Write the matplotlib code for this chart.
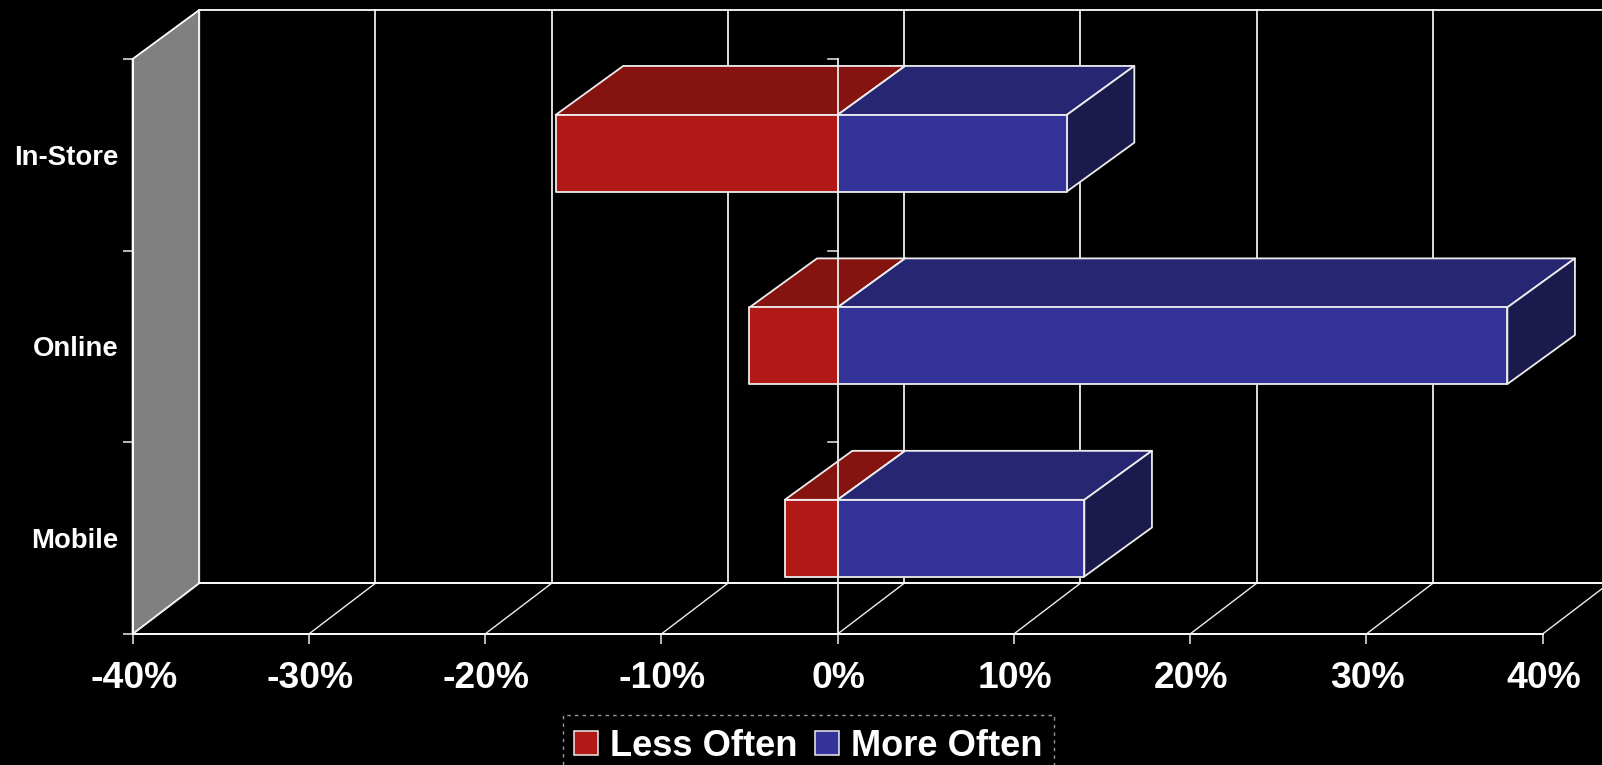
import matplotlib
matplotlib.use('Agg')
import matplotlib.pyplot as plt
from matplotlib.patches import Polygon, Patch, Rectangle
from matplotlib.transforms import ScaledTranslation

categories = ['Mobile', 'Online', 'In-Store']
less_often = [-3, -5, -16]
more_often = [14, 38, 13]
x_ticks = [-40, -30, -20, -10, 0, 10, 20, 30, 40]
x_labels = ['-40%', '-30%', '-20%', '-10%', '0%', '10%', '20%', '30%', '40%']

RED = ('#B11917', '#85130F', '#5A0D0B')
BLUE = ('#333399', '#262673', '#1A1A4D')
WHITE = '#FFFFFF'
EDGE = '#EDEDED'

# oblique offsets in axis units: wall/floor grid, then the boxes
DX = 3.78
DY_FLOOR = 0.265
DY_TOP = 0.2557
BOX_DX = 3.835
BOX_DY = 0.2557
BAR = 0.4

plt.rcParams['font.family'] = ['Liberation Sans', 'DejaVu Sans']
plt.rcParams['font.weight'] = 'bold'

W, H = 1602, 765
fig = plt.figure(figsize=(W / 100, H / 100), dpi=100, facecolor='black')
ax = fig.add_axes([132.6 / W, 1 - 634 / H, 1410 / W, (634 - 59) / H], facecolor='none')
ax.set_xlim(-40, 40)
ax.set_ylim(0, 3)


def box(x0, x1, y0, colors, zorder):
    y1 = y0 + BAR
    faces = [
        ([(x0, y1), (x0 + BOX_DX, y1 + BOX_DY), (x1 + BOX_DX, y1 + BOX_DY), (x1, y1)], colors[1]),
        ([(x1, y0), (x1 + BOX_DX, y0 + BOX_DY), (x1 + BOX_DX, y1 + BOX_DY), (x1, y1)], colors[2]),
        ([(x0, y0), (x1, y0), (x1, y1), (x0, y1)], colors[0]),
    ]
    for pts, c in faces:
        ax.add_patch(Polygon(pts, closed=True, facecolor=c, edgecolor=EDGE, lw=1.3,
                             joinstyle='round', clip_on=False, zorder=zorder))


# side wall
ax.add_patch(Polygon([(-40, 0), (-40 + DX, DY_FLOOR), (-40 + DX, 3 + DY_TOP), (-40, 3)], closed=True,
                     facecolor='#808080', edgecolor=WHITE, lw=1.3, clip_on=False, zorder=1))

# back wall grid and floor lines
for t in x_ticks:
    ax.plot([t + DX, t + DX], [DY_FLOOR, 3 + DY_TOP], color=EDGE, lw=1.3, clip_on=False, zorder=1)
    ax.plot([t, t + DX], [0, DY_FLOOR], color=EDGE, lw=1, clip_on=False, zorder=1)
ax.plot([-40 + DX, 40 + DX], [DY_FLOOR, DY_FLOOR], color=WHITE, lw=1.4, clip_on=False, zorder=1)
ax.plot([-40 + DX, 40 + DX], [3 + DY_TOP, 3 + DY_TOP], color=EDGE, lw=1.4, clip_on=False, zorder=1)

# bars, red side first so the blue boxes sit on top
for i in range(len(categories)):
    y0 = 0.5 + i * 1.004 - BAR / 2
    box(less_often[i], 0, y0, RED, 2)
    box(0, more_often[i], y0, BLUE, 3)

# category axis crossing at zero
ax.plot([0, 0], [0, 3], color=EDGE, lw=1.3, clip_on=False, zorder=4)
for j in [1, 2, 3]:
    ax.plot([-0.57, 0], [j, j], color=EDGE, lw=1.1, clip_on=False, zorder=1.5)

for s in ['top', 'right']:
    ax.spines[s].set_visible(False)
for s in ['left', 'bottom']:
    ax.spines[s].set_color(WHITE)
    ax.spines[s].set_linewidth(1.4)
    ax.spines[s].set_zorder(5)

ax.set_xticks(x_ticks)
ax.set_xticklabels(x_labels, fontsize=26.8, fontweight='bold', color=WHITE)
ax.tick_params(axis='x', length=7.2, width=1.1, color=EDGE, pad=12)
nudge = ScaledTranslation(0.8 / 72, 0, fig.dpi_scale_trans)
for label in ax.get_xticklabels():
    label.set_transform(label.get_transform() + nudge)
ax.set_yticks([0, 1, 2, 3])
ax.set_yticklabels([])
ax.tick_params(axis='y', which='major', length=7.2, width=1.1, color=EDGE)
ax.set_yticks([0.5, 1.5, 2.5], minor=True)
ax.set_yticklabels(categories, minor=True, fontsize=19.8, fontweight='bold', color=WHITE)
ax.tick_params(axis='y', which='minor', length=0, pad=10)

# legend box runs off the bottom edge of the figure
fig.add_artist(Rectangle((563 / W, -0.02), (1054 - 563) / W, 0.02 + 1 - 715 / H,
                         transform=fig.transFigure, facecolor='none', edgecolor='#999999',
                         lw=1, linestyle=(0, (2.5, 3))))
handles = [Patch(facecolor=RED[0], edgecolor=EDGE, lw=1.1),
           Patch(facecolor=BLUE[0], edgecolor=EDGE, lw=1.1)]
fig.legend(handles, ['Less Often', 'More Often'], ncol=2, loc='upper left',
           bbox_to_anchor=(563 / W, 1 - 718 / H), frameon=False,
           prop={'size': 26.1, 'weight': 'bold'}, labelcolor=WHITE,
           handlelength=0.66, handleheight=0.66, handletextpad=0.33,
           columnspacing=0.5, borderpad=0.3, borderaxespad=0)

fig.savefig('out.png', dpi=100, facecolor='black')
